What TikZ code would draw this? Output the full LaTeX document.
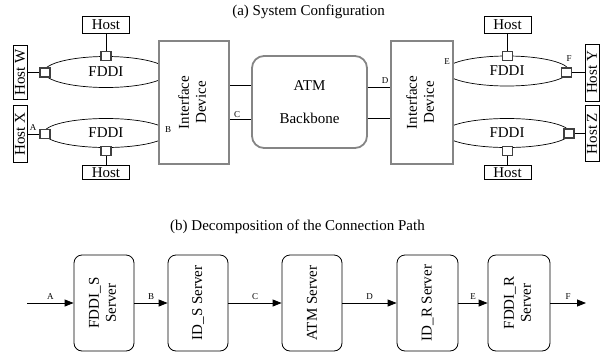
\documentclass[tikz,border=0pt]{standalone}
\usepackage{fontspec}
\setmainfont{Liberation Serif}
\usetikzlibrary{shapes.geometric,arrows.meta}
\definecolor{boxgray}{HTML}{858585}
\definecolor{portgray}{HTML}{404040}
\tikzset{
  big/.style={font=\fontsize{15}{17}\selectfont},
  small/.style={font=\fontsize{9}{10}\selectfont, inner sep=0pt},
  hostbox/.style={draw, line width=0.8pt, inner sep=0pt, minimum width=47pt, big},
  vhostbox/.style={draw, line width=0.8pt, inner sep=0pt, minimum width=56pt, minimum height=14pt, rotate=90, big},
  ring/.style={draw, ellipse, line width=0.7pt, inner sep=0pt, minimum width=124pt, big},
  port/.style={draw=portgray, fill=white, line width=1.3pt, inner sep=0pt, minimum width=10pt, minimum height=9pt},
  iface/.style={draw=boxgray, fill=white, line width=2.2pt, inner sep=0pt, minimum height=123pt, big},
  serverbox/.style={draw, rounded corners=8pt, line width=0.8pt, inner sep=0pt, minimum width=60pt, minimum height=96pt, big},
  wire/.style={line width=0.8pt},
  flow/.style={line width=0.8pt, -{Triangle[length=9pt,width=7pt]}},
}
\begin{document}
\begin{tikzpicture}[x=1pt,y=-1pt]
\useasboundingbox (0,0) rectangle (608,354);

% titles
\node[big] (ta) at (308.5,12) {(a) System Configuration};
\node[big] (tb) at (297.5,227) {(b) Decomposition of the Connection Path};

% FDDI rings
\node[ring, minimum height=31pt] (r1) at (106,72) {FDDI};
\node[ring, minimum height=29pt] (r2) at (106,133) {FDDI};
\node[ring, minimum height=30pt] (r3) at (507,71) {FDDI};
\node[ring, minimum height=29pt, minimum width=126pt] (r4) at (507,133) {FDDI};

% interface devices
\node[iface, minimum width=70pt, align=center, text width=60pt] (idl) at (194,102.5)
  {\rotatebox{90}{\begin{tabular}{@{}c@{}}Interface\\Device\end{tabular}}};
\node[iface, minimum width=62pt] (idr) at (422,102.5)
  {\rotatebox{90}{\begin{tabular}{@{}c@{}}Interface\\Device\end{tabular}}};

% ATM backbone
\node[draw=boxgray, line width=1.8pt, rounded corners=12pt, minimum width=115pt, minimum height=92pt, inner sep=0pt, big] (atm) at (309.5,102) {};
\node[big] (atmt) at (309.5,86) {ATM};
\node[big] (atmb) at (309.5,118) {Backbone};

\draw[wire] (idl.east |- 0,85) -- (atm.west |- 0,85);
\draw[wire] (idl.east |- 0,119) -- (atm.west |- 0,119);
\draw[wire] (atm.east |- 0,87) -- (idr.west |- 0,87);
\draw[wire] (atm.east |- 0,118) -- (idr.west |- 0,118);

% ports
\node[port] (p1t) at (106,56) {};
\node[port] (p1l) at (45,72.5) {};
\node[port] (p2l) at (45,134) {};
\node[port] (p2b) at (106,151) {};
\node[port] (p3t) at (507.5,56) {};
\node[port] (p3r) at (566.5,72.5) {};
\node[port] (p4r) at (569,133.5) {};
\node[port] (p4b) at (507.5,151) {};

% hosts
\node[hostbox, minimum height=17pt] (h1) at (106,24.5) {Host};
\node[hostbox, minimum height=14pt] (h2) at (106,172.5) {Host};
\node[hostbox, minimum height=17pt] (h3) at (507.5,24.5) {Host};
\node[hostbox, minimum height=14pt] (h4) at (507.5,172.5) {Host};
\node[vhostbox, minimum width=54pt] (hw) at (20,72.5) {Host W};
\node[vhostbox, minimum width=57pt] (hx) at (20,134) {Host X};
\node[vhostbox, minimum width=57pt] (hy) at (592,72.5) {Host Y};
\node[vhostbox, minimum width=56pt] (hz) at (592,133.5) {Host Z};

\draw[wire] (h1) -- (p1t);
\draw[wire] (h2) -- (p2b);
\draw[wire] (h3) -- (p3t);
\draw[wire] (h4) -- (p4b);
\draw[wire] (hw) -- (p1l);
\draw[wire] (hx) -- (p2l);
\draw[wire] (hy) -- (p3r);
\draw[wire] (hz) -- (p4r);

% point labels
\node[small] (la) at (33,127.5) {A};
\node[small] (lb) at (168,129.5) {B};
\node[small] (lc) at (237,115) {C};
\node[small] (ld) at (385,81) {D};
\node[small] (le) at (447,62) {E};
\node[small] (lf) at (569,59) {F};

% part (b)
\node[serverbox] (fs) at (104,303) {\rotatebox{90}{\begin{tabular}{@{}c@{}}FDDI\_S\\Server\end{tabular}}};
\node[serverbox] (ids) at (198,303) {\rotatebox{90}{ID\_S Server}};
\node[serverbox] (atms) at (312,303) {\rotatebox{90}{ATM Server}};
\node[serverbox, minimum width=61pt] (idrs) at (427.5,303) {\rotatebox{90}{ID\_R Server}};
\node[serverbox, minimum width=62pt] (frs) at (519,303) {\rotatebox{90}{\begin{tabular}{@{}c@{}}FDDI\_R\\Server\end{tabular}}};

\coordinate (in) at (27,303);
\coordinate (out) at (586,303);

\draw[flow] (in) -- node[small, above=3pt] (fa) {A} (fs);
\draw[flow] (fs) -- node[small, above=3pt] (fb) {B} (ids);
\draw[flow] (ids) -- node[small, above=3pt] (fc) {C} (atms);
\draw[flow] (atms) -- node[small, above=3pt] (fd) {D} (idrs);
\draw[flow] (idrs) -- node[small, above=3pt] (fe) {E} (frs);
\draw[flow] (frs) -- node[small, above=3pt] (ff) {F} (out);
\end{tikzpicture}
\end{document}
